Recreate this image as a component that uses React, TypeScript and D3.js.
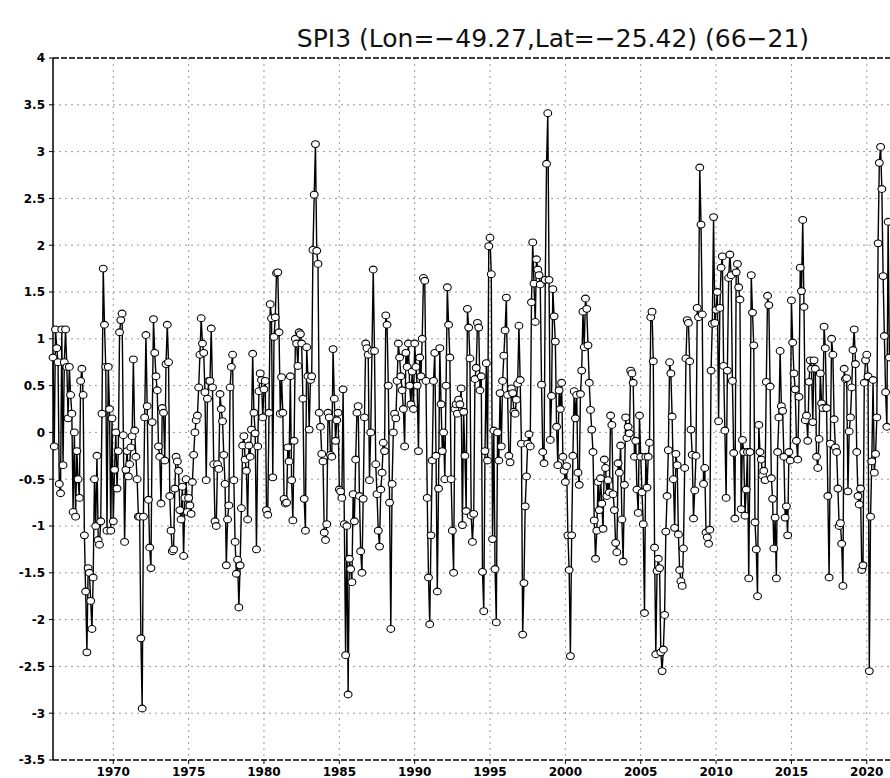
import React from "react";
import * as d3 from "d3";

// Monthly 3-month Standardized Precipitation Index, Jan 1966 onwards
const START_YEAR = 1966;
const spi3: number[] = [
  // 1966
  0.8, -0.15, 1.1, 0.9, 0.75, -0.55, -0.65, 1.1, -0.35, 0.75, 1.1, 0.7,
  // 1967
  0.15, 0.7, 0.4, 0.2, -0.85, 0.0, -0.9, -0.2, -0.5, -0.7, 0.55, 0.68,
  // 1968
  0.4, -1.1, -1.7, -2.35, -1.45, -1.5, -1.8, -2.1, -1.55, -0.5, -1.0, -0.25,
  // 1969
  -1.15, -1.2, -0.95, 0.2, 1.75, 1.15, 0.7, -1.05, 0.7, 0.25, -1.05, 0.15,
  // 1970
  -0.95, -0.4, 0.0, -0.6, -0.2, 1.07, 1.2, 1.27, -0.03, -1.17, -0.4, -0.2,
  // 1971
  -0.47, -0.34, -0.16, -0.04, 0.78, 0.02, -0.26, -0.5, -0.9, -0.9, -2.2, -2.95,
  // 1972
  -0.9, 0.16, 1.04, 0.28, -0.72, -1.23, -1.45, 0.11, 1.21, 0.85, 0.6, 0.45,
  // 1973
  -0.15, -0.26, -0.76, 0.26, 0.21, -0.3, 0.73, 1.15, 0.75, -0.68, -1.05, -1.27,
  // 1974
  -1.25, -0.6, -0.26, -0.31, -0.41, -0.83, -0.93, -0.58, -1.32, -0.7, -0.5, -0.85,
  // 1975
  -0.7, -0.78, -0.87, -0.53, -0.24, 0.0, 0.13, 0.18, 0.48, 0.83, 1.22, 0.95,
  // 1976
  0.85, 0.43, -0.51, 0.36, 0.55, 0.55, 1.11, 0.48, -0.34, -0.95, -1.0, -0.34,
  // 1977
  -0.39, 0.41, 0.25, 0.12, -0.24, -0.55, -1.42, -0.93, -0.78, 0.48, 0.7, 0.83,
  // 1978
  -0.51, -1.17, -1.51, -1.36, -1.87, -1.42, -0.81, -0.14, -0.04, -0.29, -0.41, -0.93,
  // 1979
  -0.14, -0.26, 0.03, 0.84, 0.21, -0.01, -1.25, -0.15, 0.44, 0.63, 0.56, 0.16,
  // 1980
  0.46, 0.55, -0.83, -0.88, 0.21, 1.37, 1.22, -0.48, 1.02, 1.23, 1.7, 1.71,
  // 1981
  1.07, 0.2, 0.59, 0.21, -0.71, -0.76, -0.75, -0.16, -0.31, 0.6, -0.51, -0.94,
  // 1982
  -0.09, 1.0, 0.95, 0.71, 1.07, 1.05, 0.95, 0.36, -0.71, -1.05, 0.91, 0.6,
  // 1983
  0.03, 0.56, 0.6, 1.95, 2.54, 3.08, 1.94, 1.8, 0.21, 0.06, -0.23, -0.31,
  // 1984
  -1.07, -1.15, -0.98, 0.21, 0.16, -0.24, -0.26, 0.89, 0.36, -0.09, 0.13, 0.21,
  // 1985
  -0.61, -0.63, -0.7, 0.46, -0.98, -2.38, -1.0, -2.8, -1.35, -1.46, -1.6, -0.66,
  // 1986
  -0.95, -0.29, 0.21, 0.28, -0.68, -1.27, -1.5, -0.71, 0.16, 0.95, 0.9, 0.83,
  // 1987
  -0.51, 0.0, 0.87, 1.74, 0.87, -0.34, -0.66, -1.05, -1.22, -0.61, -0.43, -0.11,
  // 1988
  -0.2, 1.25, 1.15, 0.5, -0.75, -2.1, -0.55, 0.0, 0.2, 0.15, 0.55, 0.95,
  // 1989
  0.8, 0.6, 0.45, 0.25, -0.15, 0.85, 0.7, 0.95, 0.5, 0.3, 0.65, 0.25,
  // 1990
  0.95, 0.7, 0.5, -0.2, 0.8, 0.6, 1.0, 1.65, 1.62, 0.55, -0.7, -1.55,
  // 1991
  -2.05, -1.1, -0.3, 0.55, 0.85, -0.25, -1.7, -0.6, 0.9, 0.3, -0.2, 0.0,
  // 1992
  -0.5, 0.5, 1.55, 1.15, 0.8, -0.5, -1.05, -1.5, 0.25, 0.3, 0.2, 0.35,
  // 1993
  0.3, 0.47, -0.99, 0.22, -0.25, -0.84, 1.32, 1.12, 0.79, -0.89, -1.17, -0.87,
  // 1994
  0.57, 0.69, 1.17, 1.12, 0.45, 0.6, -1.49, -1.91, -0.2, 0.74, -0.3, 1.99,
  // 1995
  2.08, 1.69, -1.14, 0.02, -1.46, -2.03, 0.0, -0.3, 0.42, -0.15, 0.55, 0.82,
  // 1996
  1.09, 1.44, 0.4, -0.25, -0.32, 0.47, 0.42, 0.22, 0.2, 0.35, 0.52, 1.14,
  // 1997
  0.56, -0.12, -2.16, -1.61, -0.79, -0.47, -0.12, -0.02, -0.15, 1.39, 2.03, 1.59,
  // 1998
  1.18, 1.85, 1.74, 1.68, 1.58, 0.51, -0.21, -0.33, 1.63, 2.87, 3.41, 1.63,
  // 1999
  -0.08, 0.39, 1.53, 1.24, 0.97, 0.06, -0.35, 0.45, 0.25, 0.53, -0.26, -0.41,
  // 2000
  -0.53, -0.36, -1.1, -1.47, -2.39, -1.1, -0.25, 0.44, 0.15, 0.4, -0.43, -0.56,
  // 2001
  0.41, 0.66, 1.29, 0.91, 1.43, 1.32, 0.93, 0.53, 0.24, 0.03, -0.21, -0.94,
  // 2002
  -1.35, -1.05, -0.53, -0.83, -0.49, -0.76, -1.03, -0.29, -0.38, -0.68, -0.51, -0.64,
  // 2003
  0.18, 0.08, -0.66, -0.83, -1.18, -1.28, -0.33, -0.43, -0.14, -0.93, -1.38, -0.56,
  // 2004
  0.16, -0.06, 0.06, -0.01, 0.66, 0.63, 0.53, -0.26, -0.09, -0.61, -0.86, 0.18,
  // 2005
  -0.26, -0.64, -0.98, -1.93, -0.26, -0.59, -0.26, -0.11, 1.23, 1.29, 0.76, -1.23,
  // 2006
  -2.37, -1.48, -1.35, -1.45, -2.35, -2.55, -2.32, -1.95, -1.06, -0.68, -0.19, 0.75,
  // 2007
  0.63, 0.17, -0.5, -1.02, -0.23, -0.35, -1.09, -1.47, -1.59, -1.64, -1.24, -0.38,
  // 2008
  0.79, 1.2, 1.17, 0.76, 0.03, -0.24, -0.92, -0.62, -0.25, 1.33, 1.23, 2.83,
  // 2009
  2.22, 1.26, -0.55, -0.38, -1.07, -1.12, -1.19, -1.04, 0.66, 1.16, 2.3, 1.17,
  // 2010
  1.31, 1.5, 0.12, 1.33, 1.76, 1.88, 0.71, 0.02, -0.7, 0.66, 1.65, 1.9,
  // 2011
  1.68, 0.55, -0.22, -0.92, 1.71, 1.8, 1.55, 1.42, -0.82, -0.08, -0.21, -0.89,
  // 2012
  -0.61, -0.21, -1.56, -0.21, 1.68, 1.28, 0.93, -0.96, -1.25, -1.75, 0.08, -0.21,
  // 2013
  -0.29, -0.46, -0.41, -0.51, 0.54, 1.46, 1.36, 0.49, -0.49, -0.71, -1.24, -0.91,
  // 2014
  -1.56, -0.21, 0.16, 0.87, 0.28, 0.23, -0.26, -0.91, -0.79, -1.1, -0.21, -0.3,
  // 2015
  1.41, 0.96, 0.63, 0.46, -0.09, -0.29, 0.38, 1.76, 1.51, 2.27, 1.34, 0.13,
  // 2016
  0.18, -0.09, 0.54, 0.77, 0.68, 0.11, 0.77, 0.68, -0.26, -0.38, -0.07, 0.63,
  // 2017
  0.31, 0.26, 1.13, 0.9, 0.26, -0.68, -1.55, -0.12, 1.0, 0.83, 0.14, -0.16,
  // 2018
  -0.21, -0.6, -1.0, -0.97, -1.19, -1.64, 0.68, 0.57, 0.58, -0.63, 0.01, 0.16,
  // 2019
  0.48, 0.88, 1.1, 0.73, -0.21, -0.68, -0.77, -0.6, -1.47, -1.42, 0.53, 0.77,
  // 2020
  0.83, 0.6, -2.55, -0.9, -0.31, 0.56, -0.43, -0.23, 0.16, 2.02, 2.88, 3.05,
  // 2021
  2.6, 1.67, 1.03, 0.43, 0.06, 2.25, 0.8,
];

const yTickValues = [-3.5, -3, -2.5, -2, -1.5, -1, -0.5, 0, 0.5, 1, 1.5, 2, 2.5, 3, 3.5, 4];
const xTickYears = [1970, 1975, 1980, 1985, 1990, 1995, 2000, 2005, 2010, 2015, 2020];
const TITLE = "SPI3 (Lon=\u221249.27,Lat=\u221225.42) (66\u221221)";

const W = 890;
const H = 778;
const LEFT = 53;
const TOP = 58;
const BOTTOM = 760;
const PX_PER_YEAR = 15.07;

export default function App() {
  const x = d3
    .scaleLinear()
    .domain([START_YEAR, START_YEAR + 60])
    .range([LEFT, LEFT + 60 * PX_PER_YEAR]);
  const y = d3.scaleLinear().domain([-3.5, 4]).range([BOTTOM, TOP]);

  const pts = spi3.map((v, i) => ({ t: START_YEAR + i / 12, v }));
  const line = d3
    .line<{ t: number; v: number }>()
    .x((d) => x(d.t))
    .y((d) => y(d.v));

  const right = x(START_YEAR + 60);
  const fmt = (v: number) => (Number.isInteger(v) ? String(v) : v.toFixed(1));
  const labelFont = "'DejaVu Sans', sans-serif";

  return (
    <svg
      width={W}
      height={H}
      style={{ position: "absolute", left: 0, top: 0, display: "block", background: "#fff" }}
    >
      <rect x={0} y={0} width={W} height={H} fill="#fff" />
      <text
        x={553}
        y={47}
        textAnchor="middle"
        fontFamily={labelFont}
        fontSize={25}
        fill="#111"
      >
        {TITLE}
      </text>

      {/* grid */}
      <g stroke="#9a9a9a" strokeWidth={1} strokeDasharray="2,4">
        {yTickValues
          .filter((v) => v > -3.5 && v < 4)
          .map((v) => (
            <line key={"gy" + v} x1={LEFT} x2={right} y1={y(v)} y2={y(v)} />
          ))}
        {xTickYears.map((yr) => (
          <line key={"gx" + yr} x1={x(yr)} x2={x(yr)} y1={TOP} y2={BOTTOM} />
        ))}
      </g>

      {/* frame */}
      <line x1={LEFT} x2={LEFT} y1={TOP} y2={BOTTOM} stroke="#000" strokeWidth={1.5} />
      <line x1={LEFT} x2={right} y1={TOP} y2={TOP} stroke="#000" strokeWidth={1.5} strokeDasharray="6,2" />
      <line x1={LEFT} x2={right} y1={BOTTOM} y2={BOTTOM} stroke="#000" strokeWidth={1.5} strokeDasharray="6,2" />

      {/* y axis */}
      {yTickValues.map((v) => (
        <g key={"yt" + v}>
          <line x1={LEFT - 4} x2={LEFT} y1={y(v)} y2={y(v)} stroke="#000" />
          <text
            x={LEFT - 8}
            y={y(v)}
            dy="0.36em"
            textAnchor="end"
            fontFamily={labelFont}
            fontSize={12}
            fontWeight="bold"
          >
            {fmt(v)}
          </text>
        </g>
      ))}

      {/* x axis */}
      {xTickYears.map((yr) => (
        <g key={"xt" + yr}>
          <line x1={x(yr)} x2={x(yr)} y1={BOTTOM} y2={BOTTOM + 4} stroke="#000" />
          <text
            x={x(yr)}
            y={BOTTOM + 16}
            textAnchor="middle"
            fontFamily={labelFont}
            fontSize={12}
            fontWeight="bold"
          >
            {yr}
          </text>
        </g>
      ))}

      {/* series */}
      <path d={line(pts) ?? ""} fill="none" stroke="#000" strokeWidth={1.4} />
      <g fill="#fff" stroke="#000" strokeWidth={1.1}>
        {pts.map((d, i) => (
          <ellipse key={i} cx={x(d.t)} cy={y(d.v)} rx={3.9} ry={3.4} />
        ))}
      </g>
    </svg>
  );
}
